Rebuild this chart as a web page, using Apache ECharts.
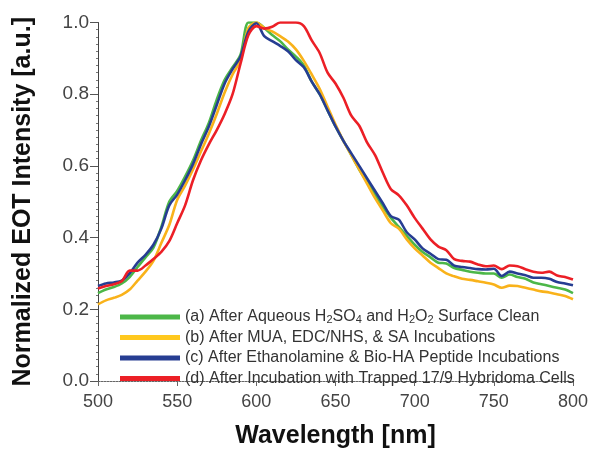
<!DOCTYPE html>
<html><head><meta charset="utf-8">
<script src="https://cdn.jsdelivr.net/npm/echarts@6/dist/echarts.min.js"></script>
<style>html,body{margin:0;padding:0;background:#fff}#c{width:591px;height:454px}</style>
</head><body><div id="c"></div>
<script>
const wavelengths = [500,505,510,515,520,525,530,535,540,545,550,555,560,565,570,575,580,585,590,595,600,605,610,615,620,625,630,635,640,645,650,655,660,665,670,675,680,685,690,695,700,705,710,715,720,725,730,735,740,745,750,755,760,765,770,775,780,785,790,795,800];
const seriesA = [0.245,0.255,0.262,0.272,0.290,0.318,0.345,0.372,0.430,0.500,0.530,0.570,0.615,0.670,0.720,0.785,0.840,0.875,0.910,1.000,1.000,0.985,0.965,0.948,0.925,0.905,0.880,0.835,0.800,0.755,0.710,0.670,0.630,0.590,0.555,0.520,0.485,0.455,0.430,0.405,0.380,0.360,0.345,0.330,0.328,0.315,0.310,0.305,0.302,0.300,0.300,0.288,0.297,0.290,0.285,0.275,0.270,0.265,0.260,0.255,0.245];
const seriesB = [0.214,0.225,0.232,0.240,0.255,0.280,0.305,0.335,0.385,0.435,0.505,0.545,0.590,0.640,0.690,0.745,0.805,0.855,0.895,0.985,1.000,0.985,0.975,0.962,0.947,0.925,0.893,0.855,0.815,0.765,0.715,0.670,0.630,0.590,0.550,0.510,0.475,0.440,0.425,0.395,0.370,0.350,0.330,0.315,0.300,0.292,0.285,0.282,0.278,0.274,0.269,0.260,0.266,0.265,0.260,0.255,0.250,0.247,0.242,0.237,0.228];
const seriesC = [0.265,0.272,0.275,0.280,0.300,0.330,0.352,0.380,0.425,0.490,0.520,0.560,0.605,0.660,0.710,0.770,0.830,0.870,0.905,0.975,0.998,0.962,0.948,0.935,0.920,0.895,0.875,0.835,0.800,0.755,0.710,0.670,0.635,0.600,0.565,0.530,0.495,0.460,0.450,0.415,0.395,0.370,0.355,0.340,0.338,0.322,0.318,0.315,0.312,0.311,0.313,0.293,0.305,0.300,0.295,0.288,0.288,0.285,0.276,0.272,0.267];
const seriesD = [0.258,0.265,0.270,0.278,0.308,0.308,0.322,0.340,0.360,0.390,0.440,0.490,0.560,0.615,0.660,0.700,0.745,0.800,0.885,0.965,0.990,0.983,0.988,1.000,1.000,1.000,0.990,0.950,0.915,0.860,0.830,0.790,0.740,0.712,0.665,0.630,0.580,0.535,0.518,0.490,0.455,0.425,0.395,0.375,0.365,0.340,0.335,0.333,0.325,0.320,0.322,0.312,0.322,0.320,0.312,0.305,0.302,0.305,0.294,0.290,0.283];
const seriesNames = ['a','b','c','d'];
const legendTexts = [
  '(a) After Aqueous H{s|2}SO{s|4} and H{s|2}O{s|2} Surface Clean',
  '(b) After MUA, EDC/NHS, & SA Incubations',
  '(c) After Ethanolamine & Bio-HA Peptide Incubations',
  '(d) After Incubation with Trapped 17/9 Hybridoma Cells'
];
const yTicks = [0.0,0.2,0.4,0.6,0.8,1.0];
const xTicks = [500,550,600,650,700,750,800];
const colors = ['#4cb748','#f9b21a','#263d92','#ec1f26'];
const legendColors = ['#4cb748','#ffc81e','#263d92','#ec1f26'];
const allData = [seriesA, seriesB, seriesC, seriesD];

const chart = echarts.init(document.getElementById('c'), null, {renderer:'canvas'});
const font = '"Liberation Sans", Arial, sans-serif';
chart.setOption({
  animation: false,
  backgroundColor: '#fff',
  grid: {left: 98, right: 18, top: 22.5, bottom: 70, containLabel: false},
  xAxis: {
    type: 'value', min: 500, max: 800, interval: 50,
    name: 'Wavelength [nm]', nameLocation: 'middle', nameGap: 43,
    nameTextStyle: {fontFamily: font, fontWeight: 'bold', fontSize: 25, color: '#111'},
    axisLine: {show: true, lineStyle: {color: '#666', width: 1, type: [2, 1]}},
    axisTick: {show: true, length: 5, lineStyle: {color: '#666'}},
    minorTick: {show: false},
    splitLine: {show: false},
    axisLabel: {fontFamily: font, fontSize: 18, color: '#444', margin: 12}
  },
  yAxis: {
    type: 'value', min: 0, max: 1, interval: 0.2,
    name: 'Normalized EOT Intensity [a.u.]', nameLocation: 'middle', nameGap: 62,
    nameTextStyle: {fontFamily: font, fontWeight: 'bold', fontSize: 25, color: '#111'},
    axisLine: {show: true, lineStyle: {color: '#444', width: 1}},
    axisTick: {show: true, length: 8, lineStyle: {color: '#555'}},
    minorTick: {show: true, splitNumber: 10, length: 2, lineStyle: {color: '#777'}},
    splitLine: {show: false},
    axisLabel: {fontFamily: font, fontSize: 19, color: '#444', margin: 9,
      formatter: v => v.toFixed(1)}
  },
  legend: {
    orient: 'vertical', left: 115, top: 304, itemGap: 4.5,
    itemWidth: 60, itemHeight: 5, icon: 'rect',
    data: seriesNames.map((n, i) => ({name: n, itemStyle: {color: legendColors[i]}})),
    formatter: name => legendTexts[seriesNames.indexOf(name)],
    textStyle: {fontFamily: font, fontSize: 16, color: '#333', lineHeight: 16,
      rich: {s: {fontFamily: font, fontSize: 11, color: '#333', lineHeight: 8, verticalAlign: 'bottom'}}}
  },
  series: seriesNames.map((n, i) => ({
    name: n, type: 'line', showSymbol: false, smooth: 0.3,
    data: wavelengths.map((w, j) => [w, allData[i][j]]),
    lineStyle: {color: colors[i], width: 2.6},
    itemStyle: {color: colors[i]},
    z: [2, 3, 4, 5][i]
  }))
});
</script></body></html>
